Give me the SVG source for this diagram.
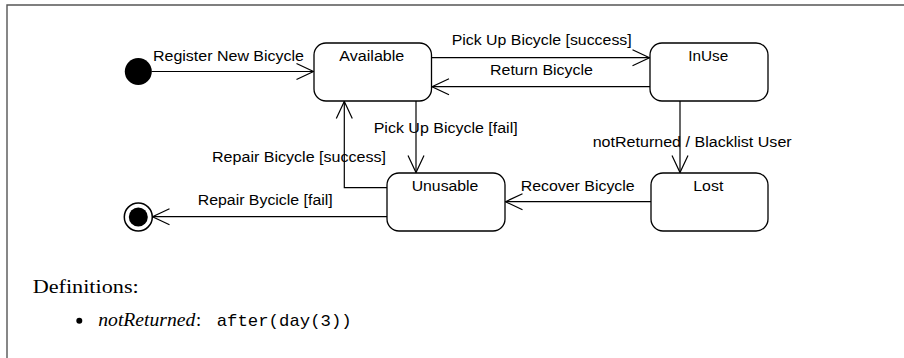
<svg xmlns="http://www.w3.org/2000/svg" width="904" height="358" viewBox="0 0 904 358">
<style>
.st{fill:#fff;stroke:#000;stroke-width:1.3}
.lb{font-family:"Liberation Sans",Arial,sans-serif;font-size:14px;fill:#000}
.cn{fill:none;stroke:#000;stroke-width:1.2;marker-end:url(#open)}
.sf{font-family:"Liberation Serif","Times New Roman",serif;font-size:18.5px;fill:#000}
.mo{font-family:"Liberation Mono","Courier New",monospace;font-size:17px;fill:#000}
</style>
<defs>
<marker id="open" markerUnits="userSpaceOnUse" markerWidth="24" markerHeight="24" viewBox="-20 -12 24 24" refX="0" refY="0" orient="auto">
<path d="M-17,-8 L0,0 L-17,8" fill="none" stroke="#000" stroke-width="1.2"/>
</marker>
</defs>
<rect width="904" height="358" fill="#fff"/>
<path d="M7,358 V5 H904" fill="none" stroke="#555" stroke-width="1.4"/>

<g id="connectors">
<line class="cn" x1="151.5" y1="71.5" x2="313.5" y2="71.5"/>
<line class="cn" x1="431.5" y1="57.7" x2="649.5" y2="57.7"/>
<line class="cn" x1="650" y1="86.7" x2="432" y2="86.7"/>
<line class="cn" x1="416" y1="101" x2="416" y2="172.5"/>
<polyline class="cn" points="387,187.7 344.3,187.7 344.3,101.5"/>
<line class="cn" x1="680" y1="101" x2="680" y2="172.5"/>
<line class="cn" x1="651" y1="201.7" x2="505.5" y2="201.7"/>
<line class="cn" x1="387" y1="216.7" x2="152.5" y2="216.7"/>
<text class="lb" x="153" y="60.7" textLength="151" lengthAdjust="spacingAndGlyphs">Register New Bicycle</text>
<text class="lb" x="451.7" y="45.3" textLength="180" lengthAdjust="spacingAndGlyphs">Pick Up Bicycle [success]</text>
<text class="lb" x="490" y="75" textLength="103" lengthAdjust="spacingAndGlyphs">Return Bicycle</text>
<text class="lb" x="373.7" y="132.5" textLength="144" lengthAdjust="spacingAndGlyphs">Pick Up Bicycle [fail]</text>
<text class="lb" x="212" y="161.7" textLength="174" lengthAdjust="spacingAndGlyphs">Repair Bicycle [success]</text>
<text class="lb" x="197.7" y="204.5" textLength="135" lengthAdjust="spacingAndGlyphs">Repair Bycicle [fail]</text>
<text class="lb" x="592.7" y="146.7" textLength="199" lengthAdjust="spacingAndGlyphs">notReturned / Blacklist User</text>
<text class="lb" x="520.7" y="191" textLength="114" lengthAdjust="spacingAndGlyphs">Recover Bicycle</text>
</g>

<g id="initial"><circle cx="138.3" cy="71.5" r="13.5" fill="#000"/></g>
<g id="final">
<circle cx="138.3" cy="217" r="14" fill="#fff" stroke="#000" stroke-width="1.5"/>
<circle cx="138.3" cy="217" r="9.5" fill="#000"/>
</g>
<g id="available">
<rect class="st" x="314" y="43" width="117.5" height="58" rx="12"/>
<text class="lb" x="339.3" y="60.7" textLength="65" lengthAdjust="spacingAndGlyphs">Available</text>
</g>
<g id="inuse">
<rect class="st" x="650" y="43" width="118" height="58" rx="12"/>
<text class="lb" x="688.3" y="60.7" textLength="40" lengthAdjust="spacingAndGlyphs">InUse</text>
</g>
<g id="unusable">
<rect class="st" x="387" y="173" width="118" height="58" rx="12"/>
<text class="lb" x="411.7" y="191" textLength="66.7" lengthAdjust="spacingAndGlyphs">Unusable</text>
</g>
<g id="lost">
<rect class="st" x="651" y="173" width="117" height="58" rx="12"/>
<text class="lb" x="693.3" y="191" textLength="30" lengthAdjust="spacingAndGlyphs">Lost</text>
</g>

<g id="definitions">
<text class="sf" x="32.7" y="293.3" textLength="106" lengthAdjust="spacingAndGlyphs">Definitions:</text>
<circle cx="79.3" cy="320.7" r="3" fill="#000"/>
<text class="sf" x="98.3" y="325.5" font-style="italic" textLength="97" lengthAdjust="spacingAndGlyphs">notReturned</text>
<text class="sf" x="196" y="325.5">:</text>
<text class="mo" x="216.7" y="325.5" textLength="135" lengthAdjust="spacingAndGlyphs">after(day(3))</text>
</g>
</svg>
